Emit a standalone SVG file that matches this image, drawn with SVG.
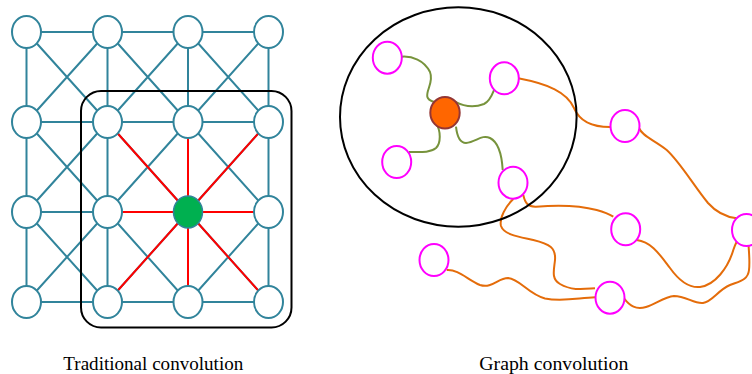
<svg xmlns="http://www.w3.org/2000/svg" width="752" height="374" viewBox="0 0 752 374">
<style>
.g{stroke:#31849B;stroke-width:2;fill:none}
.r{stroke:#FF0000;stroke-width:2;fill:none}
.n{fill:#fff;stroke:#31849B;stroke-width:2}
.m{fill:#fff;stroke:#FF00FF;stroke-width:2}
.ol{stroke:#77933C;stroke-width:2;fill:none}
.or{stroke:#E46C0A;stroke-width:2;fill:none}
.t{font-family:"Liberation Serif","Times New Roman",serif;font-size:19px;fill:#000}
</style>
<rect width="752" height="374" fill="#fff"/>
<g id="connectors">
<g class="g">
<!-- horizontals -->
<path d="M26.5 32H268.5M26.5 122H268.5M26.5 212H268.5M26.5 302H268.5"/>
<!-- verticals -->
<path d="M26.5 32V302M107.5 32V302M188 32V302M268.5 32V302"/>
<!-- diagonals -->
<path d="M26.5 32L107.5 122M107.5 32L26.5 122M107.5 32L188 122M188 32L107.5 122M188 32L268.5 122M268.5 32L188 122"/>
<path d="M26.5 122L107.5 212M107.5 122L26.5 212M107.5 122L188 212M188 122L107.5 212M188 122L268.5 212M268.5 122L188 212"/>
<path d="M26.5 212L107.5 302M107.5 212L26.5 302M107.5 212L188 302M188 212L107.5 302M188 212L268.5 302M268.5 212L188 302"/>
</g>
<path class="r" d="M188 212L107.5 122M188 212L188 122M188 212L268.5 122M188 212L107.5 212M188 212L268.5 212M188 212L107.5 302M188 212L188 302M188 212L268.5 302"/>
<!-- graph edges (olive) -->
<path class="ol" d="M401.7 56.7C412 56 424 60 430 72C434 82 426 90 427.3 96.7C428 100 431 101 434 102"/>
<path class="ol" d="M455 101.7C463 106 474 108 484 104C490 101 492 95 494 90"/>
<path class="ol" d="M436 123.3C441 131 441 143 436 148C430 153 420 152 409 152"/>
<path class="ol" d="M456 126.7C457 136 460 143 466 143C476 142 482 134 490 138C500 143 502 158 502.7 170"/>
<!-- graph edges (orange) -->
<path class="or" d="M518.3 78.3C548 84 567 92 574 108C580 122 592 127 610 127"/>
<path class="or" d="M639.3 128.3C642 136 654 140 666.7 150C680 162 694 186 708 203C716 212 726 217 736.7 218.3"/>
<path class="or" d="M523.3 195C525 203 528 207 536 206.7C556 205 578 205 596.7 210C604 212 609 214 613.3 216.7"/>
<path class="or" d="M513.3 199C506 206 499 218 501 226C504 235 520 237 533.3 240C550 244 556 248 555 260C554 270 551 279 560 284C572 291 584 289 595 288.3"/>
<path class="or" d="M636.7 240C652 242 660 255 670 268C680 282 690 288 700 287C715 285 728 268 733.3 250C735 245 736 243 736.7 241.7"/>
<path class="or" d="M446.7 270C458 269 468 280 480 285C492 289 498 278 508 278C520 279 528 294 545 298.5C562 302 578 298 595 297.3"/>
<path class="or" d="M624 298.3C630 306 636 310 646 307C656 304 664 297 674 296C686 296 694 304 703 303C712 302 718 290 730 285C740 281 748 280 749 270C750 262 749 252 748.5 245"/>
</g>
<rect id="window" x="81" y="91" width="210.5" height="236.5" rx="20" ry="20" fill="none" stroke="#000" stroke-width="2"/>
<g id="grid-nodes">
<g id="n00"><ellipse class="n" cx="26.5" cy="32" rx="14.5" ry="16"/></g>
<g id="n10"><ellipse class="n" cx="107.5" cy="32" rx="14.5" ry="16"/></g>
<g id="n20"><ellipse class="n" cx="188" cy="32" rx="14.5" ry="16"/></g>
<g id="n30"><ellipse class="n" cx="268.5" cy="32" rx="14.5" ry="16"/></g>
<g id="n01"><ellipse class="n" cx="26.5" cy="122" rx="14.5" ry="16"/></g>
<g id="n11"><ellipse class="n" cx="107.5" cy="122" rx="14.5" ry="16"/></g>
<g id="n21"><ellipse class="n" cx="188" cy="122" rx="14.5" ry="16"/></g>
<g id="n31"><ellipse class="n" cx="268.5" cy="122" rx="14.5" ry="16"/></g>
<g id="n02"><ellipse class="n" cx="26.5" cy="212" rx="14.5" ry="16"/></g>
<g id="n12"><ellipse class="n" cx="107.5" cy="212" rx="14.5" ry="16"/></g>
<g id="n22"><ellipse cx="188" cy="212" rx="14.5" ry="16" fill="#00B050" stroke="#31849B" stroke-width="1.5"/></g>
<g id="n32"><ellipse class="n" cx="268.5" cy="212" rx="14.5" ry="16"/></g>
<g id="n03"><ellipse class="n" cx="26.5" cy="302" rx="14.5" ry="16"/></g>
<g id="n13"><ellipse class="n" cx="107.5" cy="302" rx="14.5" ry="16"/></g>
<g id="n23"><ellipse class="n" cx="188" cy="302" rx="14.5" ry="16"/></g>
<g id="n33"><ellipse class="n" cx="268.5" cy="302" rx="14.5" ry="16"/></g>
</g>
<g id="neighborhood"><ellipse cx="458.3" cy="117" rx="118.3" ry="109.7" fill="none" stroke="#000" stroke-width="2"/></g>
<g id="graph-nodes">
<g id="center"><ellipse cx="445" cy="112.7" rx="14.7" ry="15.8" fill="#FF6600" stroke="#943634" stroke-width="2"/></g>
<g id="g1"><ellipse class="m" cx="387.3" cy="57.7" rx="14.5" ry="16"/></g>
<g id="g2"><ellipse class="m" cx="504.3" cy="78.3" rx="14.5" ry="16"/></g>
<g id="g3"><ellipse class="m" cx="396.7" cy="162" rx="14.5" ry="16"/></g>
<g id="g4"><ellipse class="m" cx="513" cy="182.7" rx="14.5" ry="16"/></g>
<g id="g5"><ellipse class="m" cx="625" cy="126" rx="14.5" ry="16"/></g>
<g id="g6"><ellipse class="m" cx="625.7" cy="229.3" rx="14.5" ry="16"/></g>
<g id="g7"><ellipse class="m" cx="746.5" cy="230" rx="14.5" ry="16"/></g>
<g id="g8"><ellipse class="m" cx="434" cy="260" rx="14.5" ry="16"/></g>
<g id="g9"><ellipse class="m" cx="610" cy="297.7" rx="14.5" ry="16"/></g>
</g>
<g id="labels">
<text class="t" x="153.3" y="370" text-anchor="middle" textLength="180" lengthAdjust="spacingAndGlyphs">Traditional convolution</text>
<text class="t" x="553.8" y="370" text-anchor="middle" textLength="149" lengthAdjust="spacingAndGlyphs">Graph convolution</text>
</g>
</svg>
